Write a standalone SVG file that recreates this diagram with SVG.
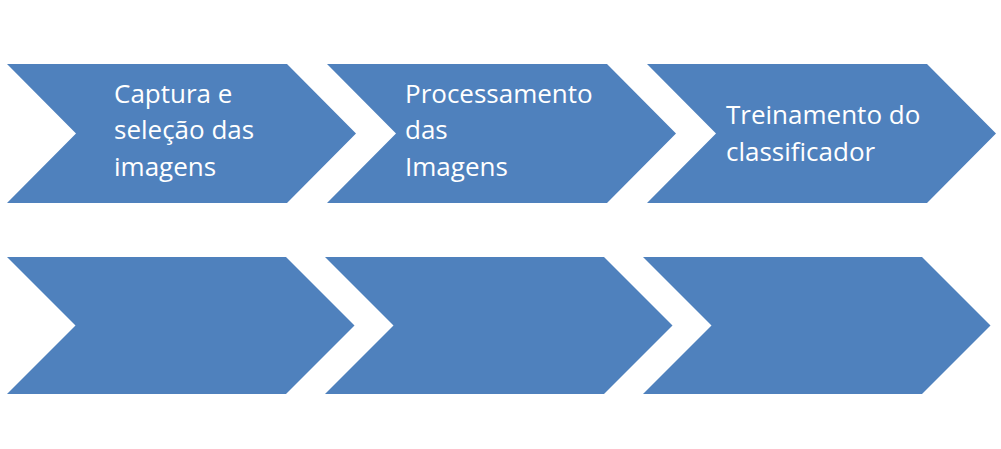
<svg xmlns="http://www.w3.org/2000/svg" width="1001" height="449" viewBox="0 0 1001 449">
<style>
.chev{fill:#4F81BD;}
.lbl{font-family:"Open Sans","Liberation Sans",sans-serif;font-size:26px;fill:#FFFFFF;}
</style>
<rect width="1001" height="449" fill="#FFFFFF"/>
<g id="step1">
<polygon class="chev" points="7,64 287,64 356,133.5 287,203 7,203 76,133.5"/>
<text class="lbl" x="114" y="102.5">Captura e</text>
<text class="lbl" x="114" y="139">seleção das</text>
<text class="lbl" x="114" y="175.5">imagens</text>
</g>
<g id="step2">
<polygon class="chev" points="327,64 607,64 676,133.5 607,203 327,203 396,133.5"/>
<text class="lbl" x="405" y="102.5">Processamento</text>
<text class="lbl" x="405" y="139">das</text>
<text class="lbl" x="405" y="175.5">Imagens</text>
</g>
<g id="step3">
<polygon class="chev" points="647,64 927,64 996,133.5 927,203 647,203 716,133.5"/>
<text class="lbl" x="726" y="123.5">Treinamento do</text>
<text class="lbl" x="726" y="160.5">classificador</text>
</g>
<g id="step4">
<polygon class="chev" points="7,257 286,257 354.5,325.5 286,394 7,394 75.5,325.5"/>
</g>
<g id="step5">
<polygon class="chev" points="325,257 604,257 672.5,325.5 604,394 325,394 393.5,325.5"/>
</g>
<g id="step6">
<polygon class="chev" points="643,257 922,257 990.5,325.5 922,394 643,394 711.5,325.5"/>
</g>
<g id="connectors"></g>
</svg>
